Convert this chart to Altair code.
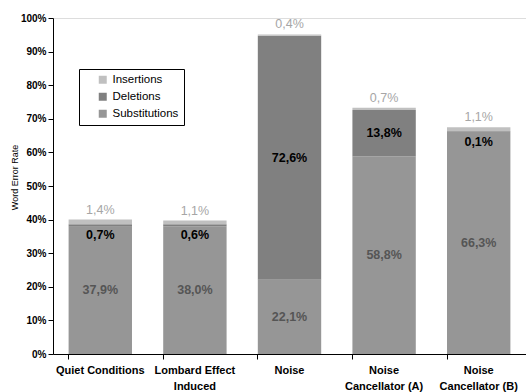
import altair as alt
import pandas as pd

# Word error rate per recording condition, split by error type (percent)
conditions = ["Quiet Conditions", "Lombard Effect\nInduced", "Noise",
              "Noise\nCancellator (A)", "Noise\nCancellator (B)"]
substitutions = [37.9, 38.0, 22.1, 58.8, 66.3]
deletions = [0.7, 0.6, 72.6, 13.8, 0.1]
insertions = [1.4, 1.1, 0.4, 0.7, 1.1]

error_types = ["Insertions", "Deletions", "Substitutions"]
error_colors = ["#c0c0c0", "#808080", "#969696"]
y_ticks = list(range(0, 101, 10))


def pct(v):
    return f"{v:.1f}".replace(".", ",") + "%"


rows = []
for i, cond in enumerate(conditions):
    base = 0.0
    for name, series in [("Substitutions", substitutions),
                         ("Deletions", deletions),
                         ("Insertions", insertions)]:
        v = series[i]
        rows.append({"condition": cond, "type": name, "value": v,
                     "y0": base, "y1": base + v, "mid": base + v / 2,
                     "label": pct(v)})
        base += v
df = pd.DataFrame(rows)

FONT = "Liberation Sans"

x_axis = alt.Axis(title=None, labelAngle=0, labelFont=FONT,
                  labelFontSize=11, labelFontWeight="bold",
                  labelColor="black", labelPadding=5,
                  labelLineHeight=16,
                  labelExpr="split(datum.label, '\\n')",
                  bandPosition=0, tickSize=5, tickColor="black",
                  domainColor="black", grid=False)
x_scale = alt.Scale(paddingInner=0.33, paddingOuter=0.165)

y_axis = alt.Axis(title="Word Error Rate", values=y_ticks,
                  labelExpr="datum.value + '%'", labelFont=FONT,
                  labelFontSize=10, labelFontWeight="bold",
                  labelColor="black", labelOverlap=False,
                  tickSize=5, tickColor="black",
                  domainColor="black", grid=False,
                  titleFont=FONT, titleFontSize=9,
                  titleFontWeight="normal", titleColor="black",
                  titleAngle=-90, titleX=-39, titleY=159,
                  titleAlign="center", titleBaseline="middle")
y_scale = alt.Scale(domain=[0, 100], nice=False)


def xenc():
    return alt.X("condition:N", sort=conditions, scale=x_scale, axis=x_axis)


def yenc(field):
    return alt.Y(field, scale=y_scale, axis=y_axis)


bars = alt.Chart(df).mark_bar().encode(
    x=xenc(),
    y=yenc("y0:Q"),
    y2="y1:Q",
    color=alt.Color("type:N", sort=error_types,
                    scale=alt.Scale(domain=error_types, range=error_colors),
                    legend=alt.Legend(title=None, orient="none",
                                      legendX=26, legendY=51,
                                      strokeColor="black", fillColor="white",
                                      padding=5, symbolType="square",
                                      symbolSize=64, symbolOffset=13,
                                      symbolStrokeWidth=0,
                                      labelFont=FONT, labelFontSize=11.5,
                                      labelColor="black", rowPadding=4,
                                      labelOffset=4)),
)

sub_labels = alt.Chart(df).transform_filter(
    alt.datum.type == "Substitutions"
).mark_text(font=FONT, fontSize=12.5, fontWeight="bold", color="#555555").encode(
    x=xenc(), y=yenc("mid:Q"), text="label:N")

del_big = alt.Chart(df).transform_filter(
    (alt.datum.type == "Deletions") & (alt.datum.value >= 5)
).mark_text(font=FONT, fontSize=12.5, fontWeight="bold", color="black").encode(
    x=xenc(), y=yenc("mid:Q"), text="label:N")

del_small = alt.Chart(df).transform_filter(
    (alt.datum.type == "Deletions") & (alt.datum.value < 5)
).mark_text(font=FONT, fontSize=12.5, fontWeight="bold", color="black",
            baseline="top", dy=5).encode(
    x=xenc(), y=yenc("y1:Q"), text="label:N")

ins_labels = alt.Chart(df).transform_filter(
    alt.datum.type == "Insertions"
).mark_text(font=FONT, fontSize=12.5, color="#a6a6a6",
            baseline="bottom", dy=-3).encode(
    x=xenc(), y=yenc("y1:Q"), text="label:N")

chart = alt.layer(bars, sub_labels, del_big, del_small, ins_labels).properties(
    width=473, height=336,
    autosize=alt.AutoSizeParams(type="none"),
    padding={"left": 53, "top": 18, "right": 0, "bottom": 38},
).configure_view(stroke=None).configure(background="white")

chart.save("out.html", embed_options={"renderer": "svg", "actions": False})
